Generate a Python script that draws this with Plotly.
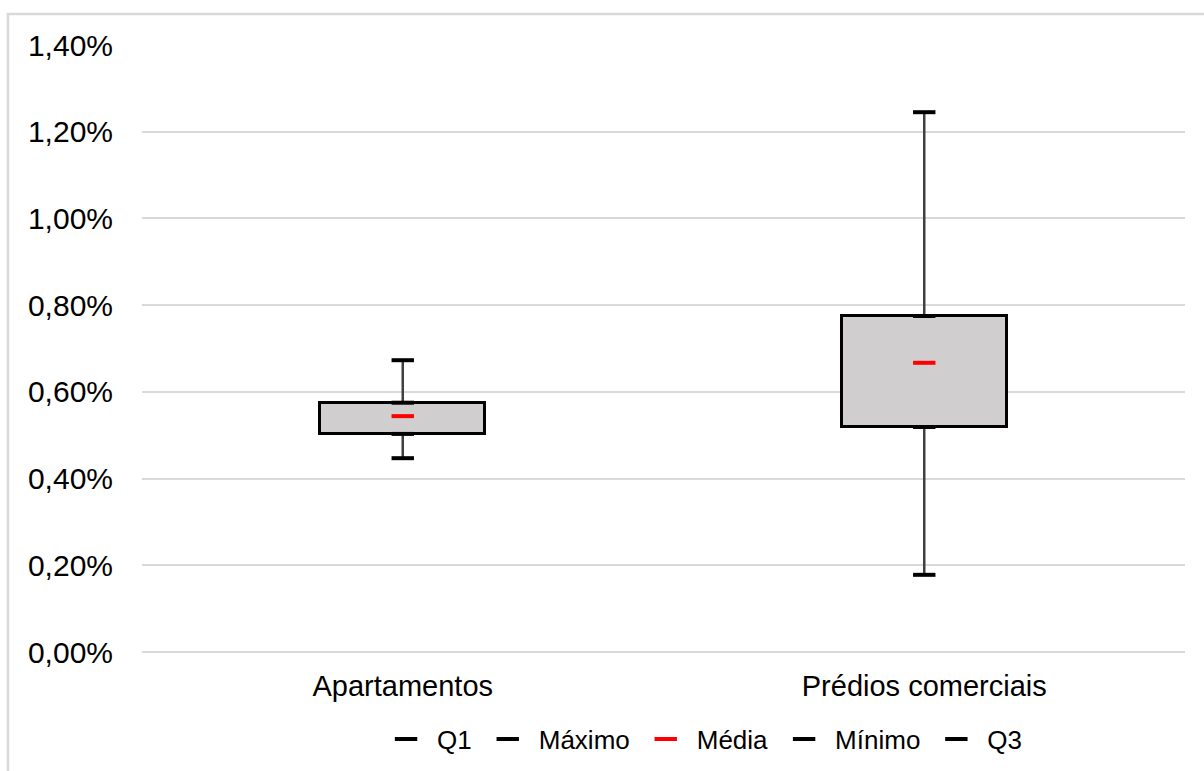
import plotly.graph_objects as go

# Distribution of rates (%) per property type
categories = ["Apartamentos", "Prédios comerciais"]
q1 = [0.503, 0.519]
q3 = [0.575, 0.775]
maximo = [0.673, 1.245]
minimo = [0.447, 0.178]
media = [0.544, 0.667]

FONT = "Liberation Sans, Arial, sans-serif"
GRID = "#D9D9D9"

fig = go.Figure()

# Whiskers: min -> Q1 and Q3 -> max
for c, lo, a, b, hi in zip(categories, minimo, q1, q3, maximo):
    fig.add_trace(go.Scatter(
        x=[c, c, None, c, c], y=[lo, a, None, b, hi],
        mode="lines", line=dict(color="#404040", width=2.5),
        showlegend=False, hoverinfo="skip",
    ))

# Box between Q1 and Q3
fig.add_trace(go.Bar(
    x=categories, y=[b - a for a, b in zip(q1, q3)], base=q1,
    width=0.316, marker=dict(color="#D0CECE", line=dict(color="black", width=3)),
    showlegend=False, hoverinfo="skip",
))

series = [
    ("Q1", q1, "black"),
    ("Máximo", maximo, "black"),
    ("Média", media, "#FF0000"),
    ("Mínimo", minimo, "black"),
    ("Q3", q3, "black"),
]
for name, vals, col in series:
    fig.add_trace(go.Scatter(
        x=categories, y=vals, name=name, mode="markers",
        marker=dict(symbol="line-ew", size=16, color=col,
                    line=dict(color=col, width=4)),
    ))

# Light outer frame
fig.add_shape(type="rect", xref="paper", yref="paper",
              x0=-0.1285, x1=1.03, y0=-0.22, y1=1.0511,
              line=dict(color=GRID, width=2.5), fillcolor="rgba(0,0,0,0)", layer="below")

fig.update_layout(
    width=1204, height=771,
    margin=dict(l=142, r=19, t=45, b=119, autoexpand=False),
    paper_bgcolor="white", plot_bgcolor="white",
    separators=",.",
    font=dict(family=FONT, color="black"),
    showlegend=True,
    legend=dict(orientation="h", x=0.536, xanchor="center",
                yref="container", y=0.0415, yanchor="middle",
                font=dict(size=26, family=FONT, color="black"), itemwidth=52,
                traceorder="normal"),
    bargap=0,
)
fig.update_xaxes(type="category", range=[-0.5, 1.5], showgrid=False, showline=False,
                 ticks="", tickfont=dict(size=29, family=FONT, color="black"),
                 ticklabelstandoff=14)
fig.update_yaxes(range=[0, 1.4], dtick=0.2, tick0=0, tickformat=".2f", ticksuffix="%",
                 showgrid=True, gridcolor=GRID, gridwidth=2,
                 zeroline=True, zerolinecolor=GRID, zerolinewidth=2,
                 showline=False, ticks="",
                 tickfont=dict(size=30, family=FONT, color="black"),
                 ticklabelstandoff=28)

fig.write_html("out.html")
